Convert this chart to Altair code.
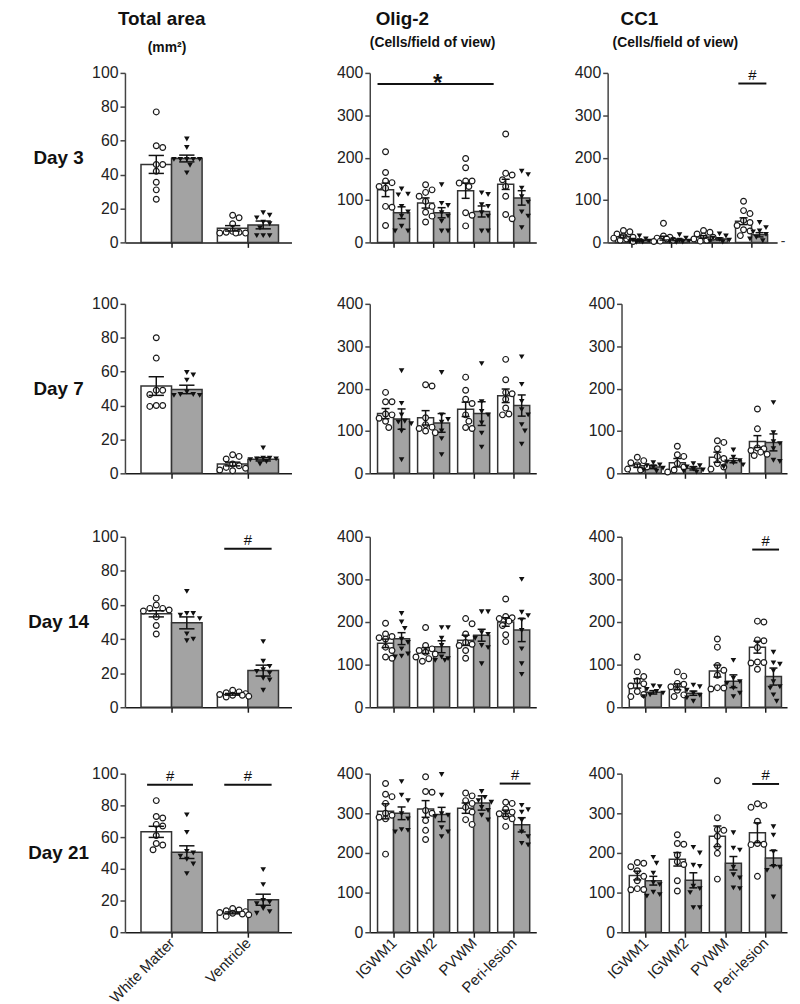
import json
import altair as alt
import pandas as pd

DAYS = ["Day 3", "Day 7", "Day 14", "Day 21"]
AREA_REGIONS = ["White Matter", "Ventricle"]
CELL_REGIONS = ["IGWM1", "IGWM2", "PVWM", "Peri-lesion"]
AREA_TICKS = [0, 20, 40, 60, 80, 100]
CELL_TICKS = [0, 100, 200, 300, 400]

# ---------------- Total area (mm²) ----------------
AREA_MEAN_CTRL = {"Day 3": [46, 8.3], "Day 7": [51.5, 5.5], "Day 14": [54.8, 7.6], "Day 21": [63.3, 12.2]}
AREA_SEM_CTRL = {"Day 3": [5.3, 1.6], "Day 7": [5.5, 1.1], "Day 14": [1.8, 0.5], "Day 21": [3.5, 0.6]}
AREA_MEAN_TRT = {"Day 3": [49.5, 10.3], "Day 7": [49.5, 8.3], "Day 14": [49.5, 21.5], "Day 21": [50.5, 20.5]}
AREA_SEM_TRT = {"Day 3": [2.0, 2.3], "Day 7": [2.5, 1.0], "Day 14": [3.5, 3.2], "Day 21": [4.0, 3.5]}
AREA_PTS_CTRL = {
    "Day 3": [[77, 57, 56, 46, 46, 42, 35.5, 31, 25.5], [16, 14.5, 11, 6.5, 6, 6, 5.5, 5.5, 5.5]],
    "Day 7": [[80, 68, 49, 49, 46.5, 40, 39.5, 40], [11, 10, 8.5, 5.5, 4.5, 3.5, 3, 2, 1.5]],
    "Day 14": [[64, 60, 58, 58, 57, 56.5, 53, 48, 43], [10, 9, 8.5, 8, 7.5, 7, 7, 6.5, 6]],
    "Day 21": [[83, 73, 72, 68, 67, 61, 56, 55, 52], [15, 14, 13.5, 13, 12.5, 12, 11.5, 11, 10]],
}
AREA_PTS_TRT = {
    "Day 3": [[61, 56, 49, 49, 49, 49, 49, 45.5, 41], [17.5, 16, 14.5, 12, 11, 8.5, 4, 4, 4]],
    "Day 7": [[59.5, 58, 55, 48, 46.5, 46.5, 46, 46], [15, 9, 9, 8.5, 8.5, 8, 7, 5.5]],
    "Day 14": [[68, 55, 55, 54, 52, 43, 40, 39], [38.5, 27, 24, 22, 21, 20, 17, 16, 10]],
    "Day 21": [[74, 63, 51, 50, 48, 46, 43, 37], [39.5, 30, 20, 19, 18, 15, 13, 12]],
}

# ---------------- Olig-2 (cells / field of view) ----------------
OLIG_MEAN_CTRL = {"Day 3": [124, 93, 122, 137], "Day 7": [141, 131, 151, 183],
                  "Day 14": [150, 133, 157, 200], "Day 21": [305, 311, 313, 300]}
OLIG_SEM_CTRL = {"Day 3": [16, 12, 18, 12], "Day 7": [12, 17, 17, 16],
                 "Day 14": [10, 7, 12, 10], "Day 21": [19, 21, 13, 8]}
OLIG_MEAN_TRT = {"Day 3": [70, 70, 73, 105], "Day 7": [128, 119, 141, 160],
                 "Day 14": [161, 142, 169, 181], "Day 21": [300, 297, 326, 271]}
OLIG_SEM_TRT = {"Day 3": [14, 12, 13, 17], "Day 7": [24, 22, 28, 25],
                "Day 14": [14, 14, 14, 27], "Day 21": [16, 18, 18, 18]}
OLIG_PTS_CTRL = {
    "Day 3": [[214, 165, 145, 141, 132, 128, 85, 83, 40], [136, 124, 118, 109, 97, 85, 71, 62, 48],
              [198, 176, 145, 145, 140, 132, 70, 64, 39], [256, 163, 159, 148, 132, 109, 66, 56]],
    "Day 7": [[191, 169, 169, 140, 138, 130, 123, 108], [209, 206, 131, 115, 109, 106, 100, 96],
              [227, 196, 175, 165, 138, 123, 108, 106], [269, 221, 191, 188, 175, 154, 140, 138]],
    "Day 14": [[197, 172, 166, 163, 160, 141, 133, 118, 115], [187, 145, 137, 133, 129, 125, 118, 114, 108],
               [208, 196, 172, 152, 148, 145, 133, 115], [254, 213, 210, 208, 202, 192, 170, 154]],
    "Day 21": [[375, 348, 342, 325, 300, 295, 290, 286, 197], [392, 355, 353, 307, 300, 282, 257, 234],
               [351, 344, 332, 325, 315, 303, 284, 272], [328, 325, 311, 303, 299, 292, 286, 267]],
}
OLIG_PTS_TRT = {
    "Day 3": [[126, 114, 112, 85, 72, 62, 38, 27, 27], [136, 92, 87, 70, 62, 50, 27, 27],
              [117, 113, 89, 85, 70, 62, 27, 27], [168, 160, 128, 108, 95, 72, 62, 35]],
    "Day 7": [[242, 165, 138, 123, 121, 117, 100, 32], [238, 138, 127, 121, 100, 82, 44],
              [259, 169, 146, 138, 119, 95, 62], [275, 210, 170, 150, 138, 115, 100, 69]],
    "Day 14": [[220, 200, 185, 160, 152, 137, 125, 120, 118], [187, 187, 162, 145, 118, 114, 110, 110],
               [224, 224, 175, 171, 162, 145, 140, 102], [300, 223, 215, 205, 180, 137, 102, 77]],
    "Day 21": [[380, 346, 332, 299, 286, 259, 257, 253], [398, 346, 299, 295, 292, 264, 253, 241],
               [355, 340, 332, 328, 315, 307, 295, 283], [320, 309, 303, 282, 253, 241, 224, 220]],
}

# ---------------- CC1 (cells / field of view) ----------------
CC1_MEAN_CTRL = {"Day 3": [14, 10, 13, 50], "Day 7": [18, 25, 38, 75],
                 "Day 14": [56, 48, 85, 141], "Day 21": [143, 184, 242, 251]}
CC1_SEM_CTRL = {"Day 3": [3.5, 4.5, 3, 8], "Day 7": [4, 10, 12, 14],
                "Day 14": [11, 7, 14, 14], "Day 21": [11, 17, 26, 25]}
CC1_MEAN_TRT = {"Day 3": [5, 6, 8, 18], "Day 7": [15, 12, 30, 73],
                "Day 14": [35, 33, 61, 72], "Day 21": [130, 131, 174, 187]}
CC1_SEM_TRT = {"Day 3": [2, 2, 2.5, 5], "Day 7": [4, 4, 5, 20],
               "Day 14": [4, 5, 15, 20], "Day 21": [11, 19, 17, 19]}
CC1_PTS_CTRL = {
    "Day 3": [[28, 25, 20, 15, 12, 10, 8, 5, 2], [45, 15, 12, 10, 8, 5, 3, 2],
              [28, 24, 20, 15, 12, 8, 5, 3], [97, 75, 68, 52, 47, 40, 30, 27, 16]],
    "Day 7": [[38, 30, 25, 20, 15, 10, 8], [64, 44, 40, 23, 15, 8, 3],
              [77, 73, 58, 40, 35, 23, 15, 10], [152, 105, 60, 58, 54, 50, 45, 42]],
    "Day 14": [[118, 83, 72, 62, 55, 50, 37, 30, 25], [83, 73, 56, 54, 48, 40, 29, 25],
               [160, 141, 98, 87, 75, 46, 45, 43], [202, 200, 158, 156, 140, 106, 105, 104, 89]],
    "Day 21": [[176, 174, 165, 155, 141, 130, 110, 108, 107], [246, 224, 222, 195, 178, 171, 130, 104],
               [382, 289, 259, 257, 242, 216, 199, 134], [324, 320, 315, 280, 224, 222, 221, 141]],
}
CC1_PTS_TRT = {
    "Day 3": [[15, 8, 5, 4, 3, 2, 1, 0], [18, 10, 6, 5, 3, 2, 1, 0],
              [20, 15, 10, 7, 5, 3, 1], [47, 35, 27, 25, 19, 12, 8, 4]],
    "Day 7": [[25, 20, 18, 15, 12, 8, 5], [23, 18, 15, 10, 8, 5, 3],
              [55, 38, 30, 27, 25, 20, 15], [167, 96, 75, 70, 58, 31, 28]],
    "Day 14": [[50, 48, 42, 37, 33, 29, 25], [52, 48, 40, 33, 28, 22, 14],
               [110, 68, 60, 56, 45, 33, 25], [129, 104, 101, 85, 60, 48, 45, 29, 14]],
    "Day 21": [[189, 174, 149, 125, 120, 101, 95, 91], [214, 200, 169, 166, 116, 110, 100, 62, 62],
               [251, 212, 207, 164, 145, 137, 112, 110], [266, 245, 203, 166, 164, 156, 89]],
}

FONT = "Liberation Sans"
INK = "#1a1a1a"
AXIS_INK = "#444444"
GREY_FILL = "#a3a3a3"


def swarm(values, py, pxu, max_half, d=6.5):
    """Simple beeswarm: horizontal offsets (data units) so markers do not overlap."""
    placed, out = [], [0.0] * len(values)
    steps, k = [0.0], 1
    while k * d * 0.5 <= max_half + 1e-9:
        steps += [k * d * 0.5, -k * d * 0.5]
        k += 1
    for idx in sorted(range(len(values)), key=lambda q: -values[q]):
        y = values[idx] * py
        best, best_score = 0.0, -1.0
        for c in steps:
            if not placed:
                best = c
                break
            dmin = min(((c - a) ** 2 + (y - b) ** 2) ** 0.5 for a, b in placed)
            if dmin >= d:
                best = c
                break
            if dmin > best_score:
                best, best_score = c, dmin
        placed.append((best, y))
        out[idx] = best / pxu
    return out


def panel(regions, mc, sc, mt, st, pc, pt, ticks, width, height, xdom, show_labels,
          sigs=(), day=None, titles=(), dash=False, top_room=None):
    n = len(regions)
    ymax = ticks[-1]
    py = height / ymax
    pxu = width / (xdom[1] - xdom[0])
    half = 0.4
    rows = []
    for i in range(n):
        for g, m, s, sign in (("ctrl", mc[i], sc[i], -1), ("trt", mt[i], st[i], 1)):
            c = i + sign * half / 2
            rows.append(dict(g=g, m=m, lo=m - s, hi=m + s, x1=min(i, i + sign * half),
                             x2=max(i, i + sign * half), xc=c, cl=c - half / 4, cr=c + half / 4, zero=0))
    bars = pd.DataFrame(rows)
    prow = []
    for i in range(n):
        for g, vals, sign in (("ctrl", pc[i], -1), ("trt", pt[i], 1)):
            offs = swarm(vals, py, pxu, half / 2 * pxu + 3)
            for v, o in zip(vals, offs):
                prow.append(dict(g=g, v=v, px=i + sign * half / 2 + o))
    pts = pd.DataFrame(prow)

    xs = alt.Scale(domain=list(xdom), nice=False, zero=False)
    ys = alt.Scale(domain=[0, ymax], nice=False)
    xaxis = alt.Axis(values=list(range(n)), labelExpr=json.dumps(regions) + "[datum.value]",
                     labels=show_labels, title=None, grid=False, tickSize=5, tickWidth=1.5,
                     tickColor=INK, domainColor=INK, domainWidth=1.5, labelAngle=-45,
                     labelAlign="right", labelBaseline="middle",
                     labelFontSize=15, labelFont=FONT, labelColor="#222", labelFlush=False,
                     labelOverlap=False, labelPadding=3)
    yaxis = alt.Axis(values=ticks, title=None, grid=False, tickSize=5, tickWidth=1.5,
                     tickColor=AXIS_INK, domainColor=AXIS_INK, domainWidth=1.5,
                     labelFontSize=16, labelFont=FONT, labelColor="#222", labelPadding=2)

    def X(f):
        return alt.X(f, type="quantitative", scale=xs, axis=xaxis)

    def Y(f):
        return alt.Y(f, type="quantitative", scale=ys, axis=yaxis)

    layers = [
        alt.Chart(bars).mark_bar(stroke="#333333", strokeWidth=1.5).encode(
            x=X("x1"), x2="x2", y=Y("m"), y2="zero",
            fill=alt.Fill("g:N", scale=alt.Scale(domain=["ctrl", "trt"], range=["white", GREY_FILL]),
                          legend=None)),
        alt.Chart(pts[pts.g == "ctrl"]).mark_point(shape="circle", filled=True, fill="white",
                                                   stroke=INK, strokeWidth=1.2, size=34,
                                                   opacity=1).encode(x=X("px"), y=Y("v")),
        alt.Chart(pts[pts.g == "trt"]).mark_point(shape="triangle-down", filled=True, color="#111111",
                                                  size=32, opacity=1).encode(x=X("px"), y=Y("v")),
        alt.Chart(bars).mark_rule(color="#111111", strokeWidth=1.5).encode(x=X("xc"), y=Y("lo"), y2="hi"),
        alt.Chart(bars).mark_rule(color="#111111", strokeWidth=1.5).encode(x=X("cl"), x2="cr", y=Y("hi")),
        alt.Chart(bars).mark_rule(color="#111111", strokeWidth=1.5).encode(x=X("cl"), x2="cr", y=Y("lo")),
    ]
    for (a, b, yv, lab) in sigs:
        sd = pd.DataFrame({"a": [a], "b": [b], "y": [yv], "c": [(a + b) / 2], "t": [lab]})
        layers.append(alt.Chart(sd).mark_rule(color="#111111", strokeWidth=2).encode(
            x=X("a"), x2="b", y=Y("y")))
        if lab == "*":
            layers.append(alt.Chart(sd).mark_text(font=FONT, fontSize=24, fontWeight="bold",
                                                  baseline="alphabetic", dy=7, dx=2, color="#111").encode(
                x=X("c"), y=Y("y"), text="t:N"))
        else:
            layers.append(alt.Chart(sd).mark_text(font=FONT, fontSize=15, baseline="alphabetic",
                                                  dy=-4, color="#111").encode(
                x=X("c"), y=Y("y"), text="t:N"))
    if day:
        layers.append(alt.Chart(pd.DataFrame({"t": [day]})).mark_text(
            font=FONT, fontSize=19, fontWeight="bold", align="center", baseline="middle",
            color="#111").encode(text="t:N", x=alt.value(-67), y=alt.value(height / 2)))
    for (txt, dx, dy, fs) in titles:
        layers.append(alt.Chart(pd.DataFrame({"t": [txt]})).mark_text(
            font=FONT, fontSize=fs, fontWeight="bold", align="left", baseline="middle",
            color="#111").encode(text="t:N", x=alt.value(dx), y=alt.value(dy)))
    if dash:
        layers.append(alt.Chart(pd.DataFrame({"t": ["-"]})).mark_text(
            font=FONT, fontSize=14, align="center", baseline="middle", color="#333").encode(
            text="t:N", x=alt.value(width + 6), y=alt.value(height)))
    if top_room is not None:
        # invisible guide that reserves head-room above the panel (sets row spacing)
        layers.append(alt.Chart(pd.DataFrame({"t": [0]})).mark_rule(opacity=0).encode(
            x=alt.value(0), y=alt.value(-top_room), y2=alt.value(0)))
    return alt.layer(*layers).properties(width=width, height=height)


def spacer(w, h=10):
    return alt.Chart(pd.DataFrame({"s": [0]})).mark_point(opacity=0, size=1).encode(
        x=alt.X("s:Q", axis=None), y=alt.Y("s:Q", axis=None)).properties(width=w, height=h)


HEIGHTS = [171, 171, 172, 160]
TOP_ROOM = [None, 15, 17, 20]
AREA_SIGS = {"Day 14": [(0.69, 1.31, 93, "#")],
             "Day 21": [(-0.32, 0.28, 93, "#"), (0.69, 1.31, 93, "#")]}
OLIG_SIGS = {"Day 3": [(-0.40, 2.50, 374, "*")], "Day 21": [(2.65, 3.42, 375, "#")]}
CC1_SIGS = {"Day 3": [(2.67, 3.37, 375, "#")], "Day 14": [(2.67, 3.34, 370, "#")],
            "Day 21": [(2.67, 3.34, 374, "#")]}

rows = []
for r, day in enumerate(DAYS):
    h = HEIGHTS[r]
    last = r == len(DAYS) - 1
    first = r == 0
    c1 = panel(AREA_REGIONS, AREA_MEAN_CTRL[day], AREA_SEM_CTRL[day], AREA_MEAN_TRT[day],
               AREA_SEM_TRT[day], AREA_PTS_CTRL[day], AREA_PTS_TRT[day], AREA_TICKS,
               168, h, (-0.61, 1.57), last, AREA_SIGS.get(day, []), day=day,
               titles=[("Total area", -7, -54, 19), ("(mm²)", 23, -25, 14)] if first else [],
               top_room=TOP_ROOM[r])
    c2 = panel(CELL_REGIONS, OLIG_MEAN_CTRL[day], OLIG_SEM_CTRL[day], OLIG_MEAN_TRT[day],
               OLIG_SEM_TRT[day], OLIG_PTS_CTRL[day], OLIG_PTS_TRT[day], CELL_TICKS,
               168, h, (-0.594, 3.564), last, OLIG_SIGS.get(day, []),
               titles=[("Olig-2", 6, -54, 19), ("(Cells/field of view)", 0, -30, 14)] if first else [])
    w3 = 171 if first else 167
    c3 = panel(CELL_REGIONS, CC1_MEAN_CTRL[day], CC1_SEM_CTRL[day], CC1_MEAN_TRT[day],
               CC1_SEM_TRT[day], CC1_PTS_CTRL[day], CC1_PTS_TRT[day], CELL_TICKS,
               w3, h, (-0.594, (w3 - 24) / 40.4), last, CC1_SIGS.get(day, []),
               titles=[("CC1", 13, -54, 19), ("(Cells/field of view)", 5, -30, 14)] if first else [],
               dash=first)
    gap23 = 72 if first else 86
    rows.append(alt.hconcat(c1, spacer(79), c2, spacer(gap23), c3, spacing=0, bounds="flush"))

chart = alt.vconcat(*rows, spacing=39).properties(
    padding={"left": 20, "top": -2, "right": 5, "bottom": 5}
).configure_view(stroke=None)

chart.save("out.html", embed_options={"renderer": "svg", "actions": False})
